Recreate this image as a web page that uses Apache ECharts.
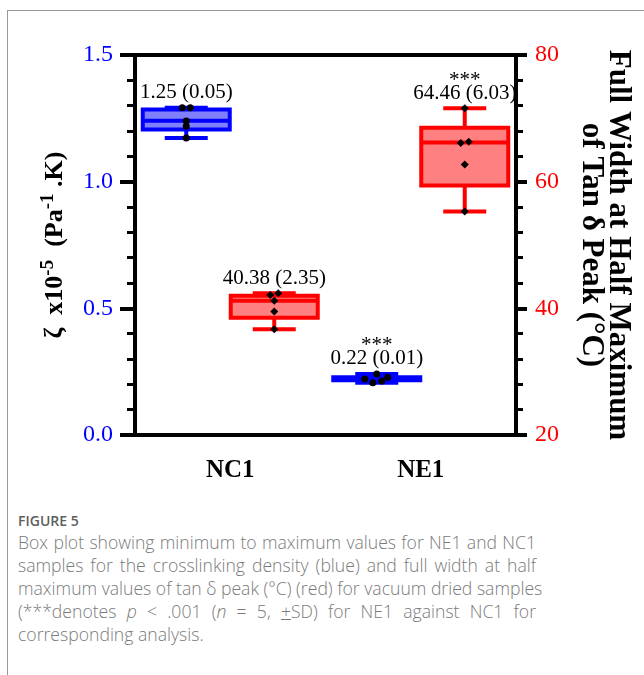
<!DOCTYPE html>
<html>
<head>
<meta charset="utf-8">
<script src="https://cdn.jsdelivr.net/npm/echarts@6/dist/echarts.min.js"></script>
<style>
html, body { margin: 0; padding: 0; background: #fff; }
#page { position: relative; width: 644px; height: 675px; overflow: hidden; }
#frame { position: absolute; left: 7px; top: 10px; right: -2px; bottom: -2px; border-top: 1.5px solid #999; border-left: 1.5px solid #999; }
#chart { position: absolute; left: 0; top: 0; width: 644px; height: 500px; }
#caption { position: absolute; left: 18px; top: 511px; width: 518px; font-family: "Open Sans", sans-serif; color: #7a7a7a; }
#caption .fig { font-size: 14px; font-weight: 600; line-height: 20px; color: #5e5e5e; }
#caption .l { font-size: 17.6px; font-weight: 300; line-height: 23px; text-align: justify; text-align-last: justify; white-space: nowrap; }
#caption .last { font-size: 17.6px; font-weight: 300; line-height: 23px; }
</style>
</head>
<body>
<div id="page">
  <div id="frame"></div>
  <div id="chart"></div>
  <div id="caption">
    <div class="fig">FIGURE 5</div>
    <div class="l">Box plot showing minimum to maximum values for NE1 and NC1</div>
    <div class="l">samples for the crosslinking density (blue) and full width at half</div>
    <div class="l">maximum values of tan δ peak (°C) (red) for vacuum dried samples</div>
    <div class="l">(***denotes <i>p</i> &lt; .001 (<i>n</i> = 5, <u>+</u>SD) for NE1 against NC1 for</div>
    <div class="last">corresponding analysis.</div>
  </div>
</div>
<script>
// groups on the x axis
var categories = ['NC1', 'NE1'];

// crosslinking density, zeta x10^-5 (Pa^-1.K), left axis: [min, Q1, median, Q3, max]
var zetaBox = [
  [1.172, 1.206, 1.240, 1.285, 1.292],
  [0.206, 0.216, 0.221, 0.228, 0.241]
];
var zetaPoints = [
  [1.292, 1.292, 1.239, 1.219, 1.172],
  [0.221, 0.206, 0.241, 0.213, 0.228]
];
var zetaMean = [1.25, 0.22];
var zetaSd = [0.05, 0.01];

// FWHM of tan delta peak (°C), right axis: [min, Q1, median, Q3, max]
var fwhmBox = [
  [36.7, 38.5, 41.2, 42.0, 42.4],
  [55.3, 59.4, 66.2, 68.5, 71.6]
];
var fwhmPoints = [
  [42.1, 42.4, 41.2, 39.5, 36.7],
  [71.6, 66.1, 66.3, 62.7, 55.3]
];
var fwhmMean = [40.38, 64.46];
var fwhmSd = [2.35, 6.03];

// *** = p < .001, NE1 vs NC1
var significance = ['', '***'];

// axis ticks
var zetaTicks = [0, 0.5, 1.0, 1.5];
var fwhmTicks = [20, 40, 60, 80];

// layout (px)
var BOX_SHIFT = 44, BOX_W = 87, CAP_W = 43;
var zetaJitter = [[-4, 4, 0, 0, 0], [-12, -4, 0, 5, 11]];
var fwhmJitter = [[-4, 4, 0, 0, 0], [0, -4, 4, 0, 0]];

var serif = '"Liberation Serif", "Times New Roman", serif';

function boxData(boxes) {
  return boxes.map(function (b, i) { return [i].concat(b); });
}

function pointData(points, jitter, shift) {
  var out = [];
  points.forEach(function (arr, i) {
    arr.forEach(function (v, k) {
      out.push({ value: [i, v], symbolOffset: [shift + jitter[i][k], 0] });
    });
  });
  return out;
}

function boxRenderer(shift, stroke, fill, means, sds) {
  return function (params, api) {
    var i = params.dataIndex;
    var c = api.value(0);
    var x = api.coord([c, 0])[0] + shift;
    var y = [];
    for (var k = 1; k <= 5; k++) y.push(api.coord([c, api.value(k)])[1]);
    var lw = 4;
    var line = function (x1, y1, x2, y2) {
      return { type: 'line', shape: { x1: x1, y1: y1, x2: x2, y2: y2 },
        style: { stroke: stroke, lineWidth: lw } };
    };
    var children = [
      line(x, y[4], x, y[3]),
      line(x, y[1], x, y[0]),
      line(x - CAP_W / 2, y[4], x + CAP_W / 2, y[4]),
      line(x - CAP_W / 2, y[0], x + CAP_W / 2, y[0]),
      { type: 'rect', shape: { x: x - BOX_W / 2, y: y[3], width: BOX_W, height: y[1] - y[3] },
        style: { fill: fill, stroke: stroke, lineWidth: lw } },
      line(x - BOX_W / 2, y[2], x + BOX_W / 2, y[2]),
      { type: 'text', x: x, y: y[4] - 15,
        style: { text: means[i].toFixed(2) + ' (' + sds[i].toFixed(2) + ')',
          align: 'center', verticalAlign: 'middle', fill: '#000',
          fontSize: 21, fontFamily: serif } }
    ];
    if (significance[i]) {
      children.push({ type: 'text', x: x, y: y[4] - 28,
        style: { text: significance[i], align: 'center', verticalAlign: 'middle',
          fill: '#000', fontSize: 21, fontFamily: serif } });
    }
    return { type: 'group', children: children };
  };
}

var chart = echarts.init(document.getElementById('chart'));

var option = {
  animation: false,
  grid: { left: 135, right: 128, top: 55, height: 380 },
  xAxis: [
    {
      type: 'category',
      data: categories,
      position: 'bottom',
      axisLine: { lineStyle: { color: '#000', width: 4 } },
      axisTick: { alignWithLabel: true, length: 17, lineStyle: { color: '#000', width: 4 } },
      axisLabel: { margin: 23, color: '#000', fontSize: 25, fontWeight: 'bold', fontFamily: serif },
      splitLine: { show: false }
    },
    {
      type: 'category',
      data: categories,
      position: 'top',
      axisLine: { lineStyle: { color: '#000', width: 4 } },
      axisTick: { show: false },
      axisLabel: { show: false },
      splitLine: { show: false }
    }
  ],
  yAxis: [
    {
      type: 'value',
      position: 'left',
      min: zetaTicks[0],
      max: zetaTicks[zetaTicks.length - 1],
      interval: zetaTicks[1] - zetaTicks[0],
      name: 'ζ  x10{sup|-5}  (Pa{sup|-1} .K)',
      nameLocation: 'middle',
      nameGap: 52,
      nameRotate: 90,
      nameTextStyle: {
        color: '#000', fontSize: 26, fontWeight: 'bold', fontFamily: serif, lineHeight: 34,
        rich: {
          sup: { fontSize: 19, fontWeight: 'bold', fontFamily: serif, color: '#000',
            lineHeight: 12, verticalAlign: 'top' }
        }
      },
      axisLine: { show: true, lineStyle: { color: '#000', width: 4 } },
      axisTick: { show: true, length: 15, lineStyle: { color: '#000', width: 4 } },
      minorTick: { show: true, splitNumber: 5, length: 8, lineStyle: { color: '#000', width: 3 } },
      axisLabel: { margin: 22, color: '#0000ff', fontSize: 24, fontFamily: serif,
        formatter: function (v) { return v.toFixed(1); } },
      splitLine: { show: false }
    },
    {
      type: 'value',
      position: 'right',
      min: fwhmTicks[0],
      max: fwhmTicks[fwhmTicks.length - 1],
      interval: fwhmTicks[1] - fwhmTicks[0],
      name: 'Full Width at Half Maximum\nof Tan δ Peak (°C)',
      nameLocation: 'middle',
      nameGap: 62,
      nameRotate: -90,
      nameTextStyle: { color: '#000', fontSize: 31, fontWeight: 'bold', fontFamily: serif, lineHeight: 27 },
      axisLine: { show: true, lineStyle: { color: '#000', width: 4 } },
      axisTick: { show: true, length: 11, lineStyle: { color: '#000', width: 4 } },
      minorTick: { show: true, splitNumber: 5, length: 7, lineStyle: { color: '#000', width: 3 } },
      axisLabel: { margin: 19, color: '#ff0000', fontSize: 24, fontFamily: serif },
      splitLine: { show: false }
    }
  ],
  series: [
    {
      type: 'custom',
      name: 'zeta',
      xAxisIndex: 0,
      yAxisIndex: 0,
      data: boxData(zetaBox),
      encode: { x: 0, y: [1, 2, 3, 4, 5] },
      renderItem: boxRenderer(-BOX_SHIFT, '#0000ff', '#8080ff', zetaMean, zetaSd),
      z: 2
    },
    {
      type: 'custom',
      name: 'fwhm',
      xAxisIndex: 0,
      yAxisIndex: 1,
      data: boxData(fwhmBox),
      encode: { x: 0, y: [1, 2, 3, 4, 5] },
      renderItem: boxRenderer(BOX_SHIFT, '#ff0000', '#ff8080', fwhmMean, fwhmSd),
      z: 2
    },
    {
      type: 'scatter',
      xAxisIndex: 0,
      yAxisIndex: 0,
      symbol: 'circle',
      symbolSize: 7,
      itemStyle: { color: '#000', opacity: 1 },
      data: pointData(zetaPoints, zetaJitter, -BOX_SHIFT),
      z: 5
    },
    {
      type: 'scatter',
      xAxisIndex: 0,
      yAxisIndex: 1,
      symbol: 'diamond',
      symbolSize: 8,
      itemStyle: { color: '#000', opacity: 1 },
      data: pointData(fwhmPoints, fwhmJitter, BOX_SHIFT),
      z: 5
    }
  ]
};

chart.setOption(option);
</script>
</body>
</html>
